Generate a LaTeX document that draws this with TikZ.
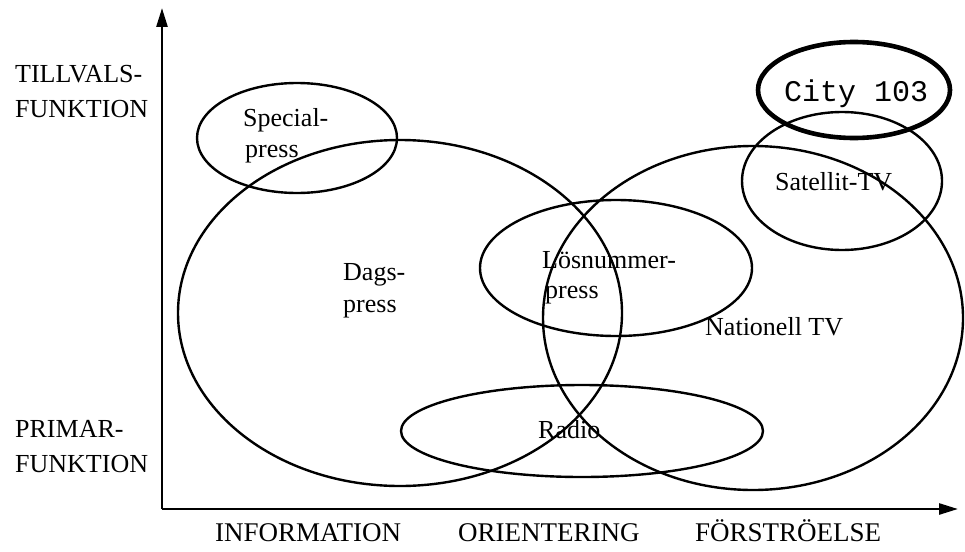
\documentclass[tikz,border=0pt]{standalone}
\usepackage{fontspec}
\setmainfont{Liberation Serif}
\newfontfamily\citymono{Liberation Mono}
\usetikzlibrary{arrows.meta,shapes.geometric}
\begin{document}
\begin{tikzpicture}[x=1pt,y=-1pt,
  lbl/.style={anchor=base west, inner sep=0pt, font=\fontsize{26}{30}\selectfont},
  xlbl/.style={lbl, font=\fontsize{27}{30}\selectfont},
  ell/.style={draw, ellipse, inner sep=0pt, line width=2.4pt},
  axis/.style={line width=2.6pt, -{Triangle[length=19pt,width=11pt]}}]
\useasboundingbox (0,0) rectangle (965,551);
% ellipses
\node[ell, minimum width=200, minimum height=110] (special) at (297,138) {};
\node[ell, minimum width=444, minimum height=346] (dags) at (400,313) {};
\node[ell, minimum width=420, minimum height=344] (nat) at (753,318) {};
\node[ell, minimum width=272, minimum height=136] (los) at (616,268) {};
\node[ell, minimum width=362, minimum height=92] (radio) at (582,431) {};
\node[ell, minimum width=200, minimum height=138] (sat) at (842,181) {};
\node[ell, line width=4.6pt, minimum width=192, minimum height=96] (city) at (854,90) {};
% axes
\coordinate (O) at (162,509);
\coordinate (ytip) at (162,8);
\coordinate (xtip) at (958,509);
\draw[axis] (O) -- (ytip);
\draw[axis] (O) -- (xtip);
% axis labels
\node[lbl] (t1) at (15,82) {TILLVALS-};
\node[lbl] (t2) at (15,117) {FUNKTION};
\node[lbl] (p1) at (15,437) {PRIMAR-};
\node[lbl] (p2) at (15,472) {FUNKTION};
\node[xlbl] (xi) at (215,541) {INFORMATION};
\node[xlbl] (xo) at (458,541) {ORIENTERING};
\node[xlbl] (xf) at (695,541) {FÖRSTRÖELSE};
% ellipse labels
\node[lbl] (s1) at (243,126) {Special-};
\node[lbl] (s2) at (245,157) {press};
\node[lbl] (d1) at (343,280) {Dags-};
\node[lbl] (d2) at (343,312) {press};
\node[lbl] (l1) at (542,268) {Lösnummer-};
\node[lbl] (l2) at (545,298) {press};
\node[lbl] (r1) at (538,438) {Radio};
\node[lbl] (n1) at (705,335) {Nationell TV};
\node[lbl] (st) at (775,190) {Satellit-TV};
\node[lbl, font=\citymono\fontsize{30}{32}\selectfont] (c1) at (784,101) {City 103};
\end{tikzpicture}
\end{document}
